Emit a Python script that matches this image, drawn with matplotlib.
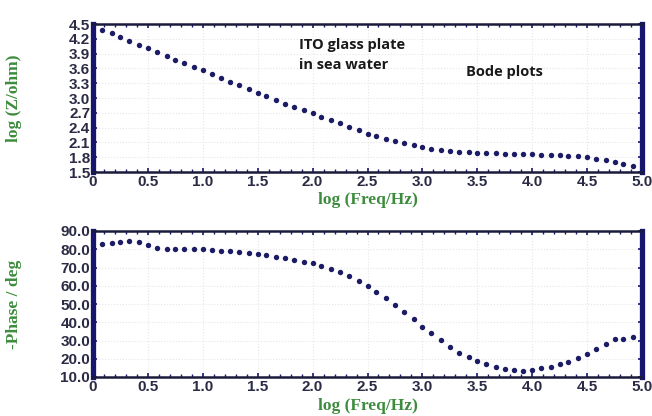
import matplotlib
matplotlib.use("Agg")
import matplotlib.pyplot as plt
from matplotlib.ticker import MultipleLocator

# log10 of frequency (Hz), 12 points per decade
log_freq = [0.08, 0.17, 0.25, 0.33, 0.42, 0.50, 0.58, 0.67, 0.75, 0.83,
            0.92, 1.00, 1.08, 1.17, 1.25, 1.33, 1.42, 1.50, 1.58, 1.67,
            1.75, 1.83, 1.92, 2.00, 2.08, 2.17, 2.25, 2.33, 2.42, 2.50,
            2.58, 2.67, 2.75, 2.83, 2.92, 3.00, 3.08, 3.17, 3.25, 3.33,
            3.42, 3.50, 3.58, 3.67, 3.75, 3.83, 3.92, 4.00, 4.08, 4.17,
            4.25, 4.33, 4.42, 4.50, 4.58, 4.67, 4.75, 4.83, 4.92]

log_z = [4.38, 4.31, 4.23, 4.16, 4.08, 4.01, 3.93, 3.86, 3.78, 3.70,
         3.63, 3.56, 3.49, 3.41, 3.33, 3.26, 3.18, 3.11, 3.04, 2.95,
         2.88, 2.81, 2.76, 2.69, 2.62, 2.55, 2.49, 2.42, 2.35, 2.28,
         2.23, 2.17, 2.13, 2.08, 2.05, 2.00, 1.97, 1.94, 1.92, 1.91,
         1.90, 1.89, 1.88, 1.88, 1.87, 1.86, 1.86, 1.86, 1.85, 1.85,
         1.84, 1.83, 1.82, 1.80, 1.77, 1.74, 1.71, 1.67, 1.62]

neg_phase = [82.9, 83.3, 84.2, 84.4, 83.8, 82.3, 80.9, 80.3, 80.0, 80.0,
             80.3, 80.3, 79.8, 79.2, 78.9, 78.5, 77.9, 77.2, 76.7, 75.7,
             75.0, 74.1, 73.2, 72.3, 71.0, 69.3, 67.5, 65.3, 62.8, 60.0,
             56.7, 53.5, 49.6, 45.8, 41.6, 37.6, 33.9, 30.3, 26.6, 23.4,
             21.1, 18.8, 17.0, 15.5, 14.6, 13.8, 13.5, 13.7, 14.8, 15.6,
             17.0, 18.2, 20.2, 22.6, 25.2, 27.9, 30.8, 30.8, 32.1]

x_ticks = [0, 0.5, 1.0, 1.5, 2.0, 2.5, 3.0, 3.5, 4.0, 4.5, 5.0]
x_tick_labels = ["0", "0.5", "1.0", "1.5", "2.0", "2.5", "3.0", "3.5", "4.0", "4.5", "5.0"]
z_ticks = [4.5, 4.2, 3.9, 3.6, 3.3, 3.0, 2.7, 2.4, 2.1, 1.8, 1.5]
phase_ticks = [90, 80, 70, 60, 50, 40, 30, 20, 10]

NAVY = "#16166e"
DOT = "#1c1c66"
GREEN = "#3d8c3d"
TICKC = "#2b2b45"
tick_font = dict(family=["Liberation Sans Narrow", "Liberation Sans", "DejaVu Sans"],
                 weight="bold", size=11)
label_font = dict(family=["Liberation Serif", "DejaVu Serif"], weight="bold", size=12.5)

fig = plt.figure(figsize=(6.52, 4.16), dpi=100)
W, H = 652, 416
def rect(l, r, t, b):
    return [l / W, 1 - b / H, (r - l) / W, (b - t) / H]

ax1 = fig.add_axes(rect(93, 642, 24, 172))
ax2 = fig.add_axes(rect(93, 642, 231, 377))

def style(ax, yticks, ylabels, ylim):
    ax.set_xlim(0, 5.0)
    ax.set_ylim(*ylim)
    ax.set_xticks(x_ticks)
    ax.set_xticklabels(x_tick_labels, color=TICKC, **tick_font)
    ax.set_yticks(yticks)
    ax.set_yticklabels(ylabels, color=TICKC, **tick_font)
    ax.xaxis.set_minor_locator(MultipleLocator(0.1))
    ax.tick_params(axis="both", which="major", length=3, width=1.2, color=NAVY,
                   pad=2, top=True, right=True, direction="in")
    ax.tick_params(axis="both", which="minor", length=2, width=1, color=NAVY,
                   top=True, right=True, direction="in")
    for s in ("left", "right"):
        ax.spines[s].set_linewidth(3.8)
        ax.spines[s].set_color(NAVY)
    for s in ("top", "bottom"):
        ax.spines[s].set_linewidth(1.8)
        ax.spines[s].set_color("#1a1a3a")
    ax.grid(True, which="major", color="#e6e6ea", linewidth=0.8, linestyle=":")
    ax.set_axisbelow(True)

ax1.plot(log_freq, log_z, linestyle="none", marker="o", markersize=3.9,
         color=DOT, markeredgewidth=0)
style(ax1, z_ticks, [f"{v:.1f}" for v in z_ticks], (1.5, 4.5))
ax1.set_ylabel("log (Z/ohm)", color=GREEN, labelpad=34, **label_font)
ax1.set_xlabel("log (Freq/Hz)", color=GREEN, labelpad=2, **label_font)

ax2.plot(log_freq, neg_phase, linestyle="none", marker="o", markersize=3.9,
         color=DOT, markeredgewidth=0)
style(ax2, phase_ticks, [f"{v:.1f}" for v in phase_ticks], (10, 90))
ax2.set_ylabel("-Phase / deg", color=GREEN, labelpad=28, **label_font)
ax2.set_xlabel("log (Freq/Hz)", color=GREEN, labelpad=3, **label_font)

note_font = dict(family=["Open Sans", "DejaVu Sans"], weight="bold", size=10.5, color="#1a1a1a")
ax1.text(1.88, 3.87, "ITO glass plate\nin sea water", ha="left", va="center",
         linespacing=1.6, **note_font)
ax1.text(3.40, 3.53, "Bode plots", ha="left", va="center", **note_font)

fig.savefig("out.png", dpi=100)
